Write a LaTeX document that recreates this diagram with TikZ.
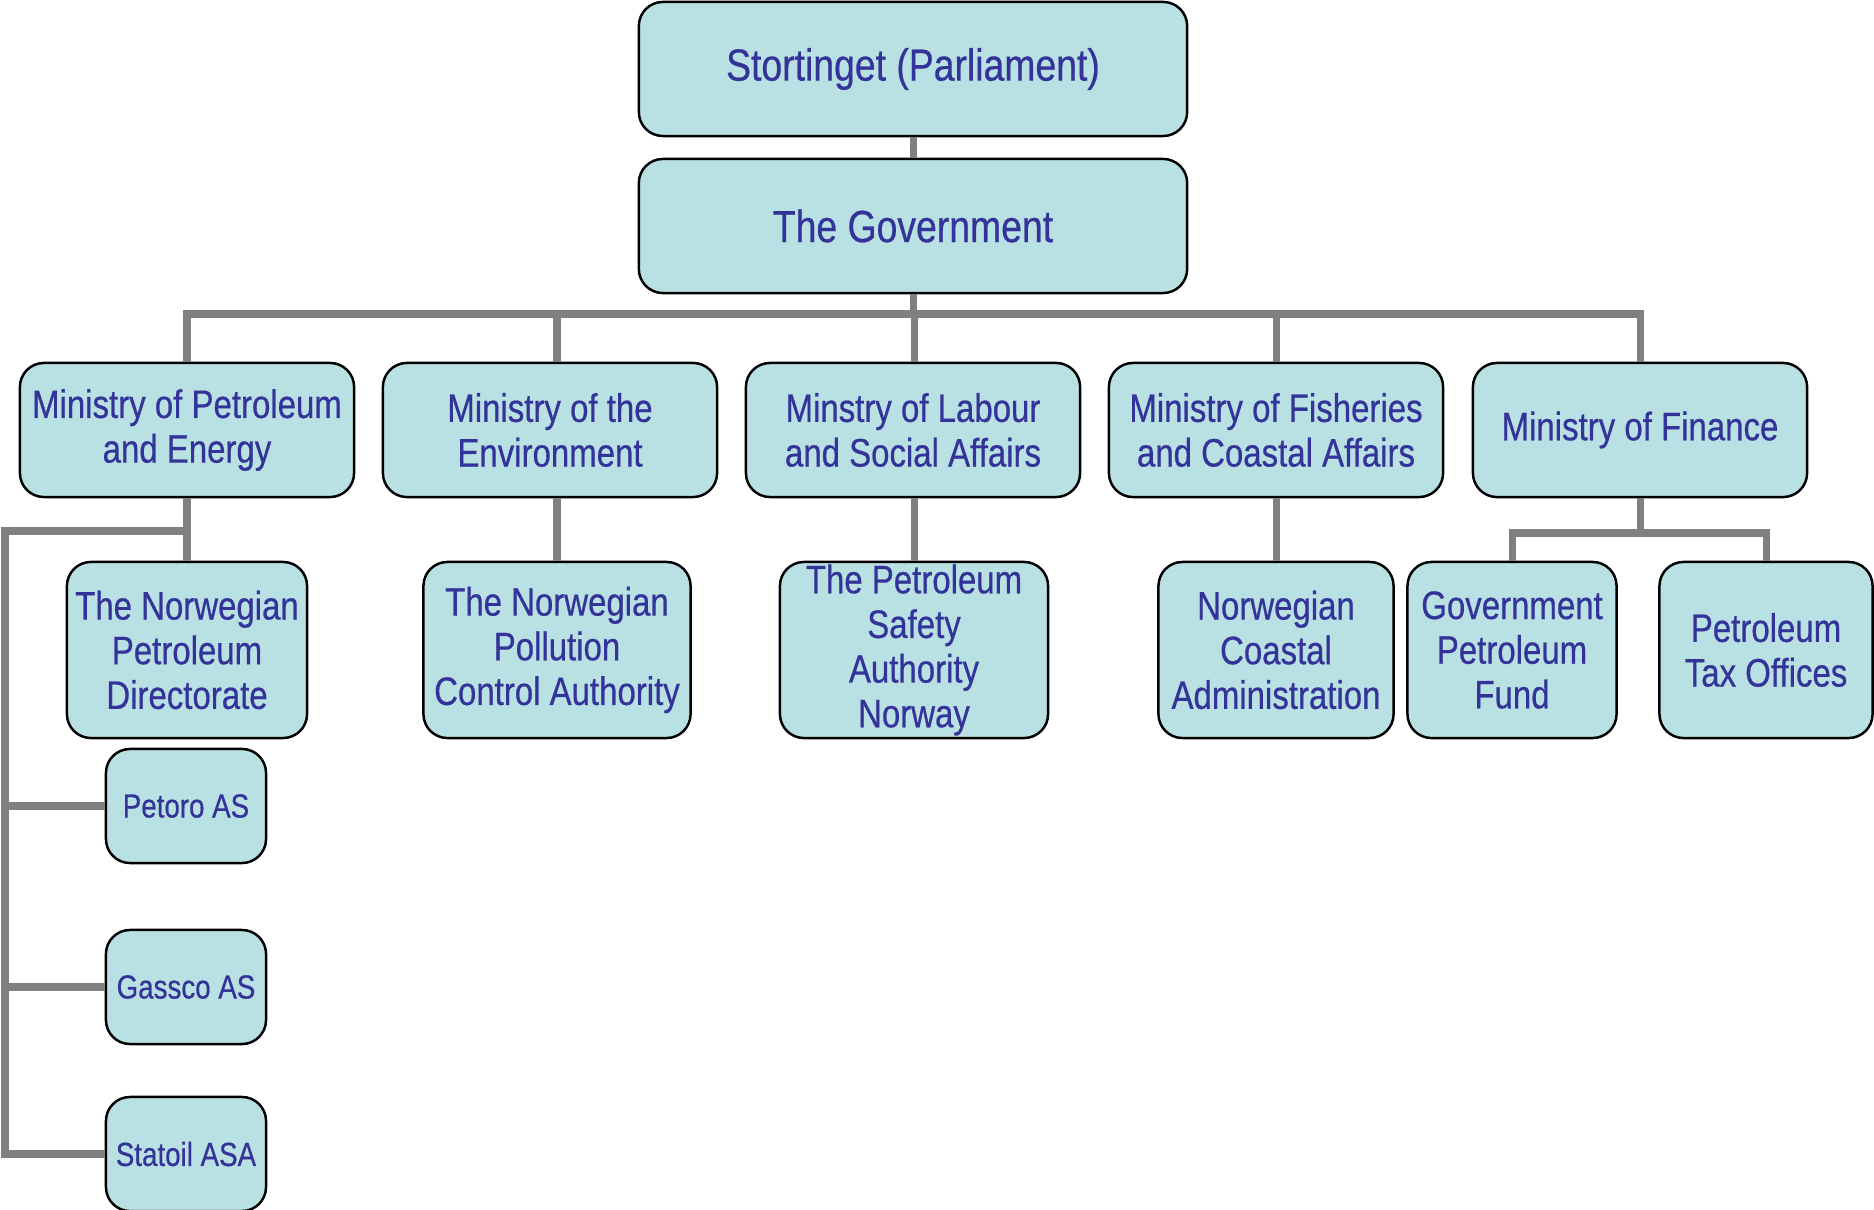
\documentclass[tikz,border=0pt]{standalone}
\usepackage{fontspec}
\setmainfont{Liberation Sans}[FakeStretch=0.83,FakeBold=0.5]
\usetikzlibrary{positioning}
\definecolor{boxfill}{RGB}{185,224,227}
\definecolor{boxtext}{RGB}{51,51,153}
\definecolor{linkgray}{RGB}{128,128,128}

\begin{document}
\begin{tikzpicture}[x=0.01cm,y=-0.01cm,
    org/.style={draw=black,line width=0.7pt,fill=boxfill,rounded corners=0.24cm,
      text=boxtext,align=center,inner sep=0pt,font=\fontsize{11.3}{12.7}\selectfont},
    top/.style={org,minimum width=5.48cm,minimum height=1.34cm,font=\fontsize{12.8}{15}\selectfont},
    ministry/.style={org,minimum width=3.34cm,minimum height=1.34cm},
    agency/.style={org,minimum height=1.76cm},
    firm/.style={org,minimum width=1.6cm,minimum height=1.14cm,font=\fontsize{9.5}{11}\selectfont},
    link/.style={draw=linkgray,line width=2pt}]
    \useasboundingbox (0,0) rectangle (1874,1210);
    % top of the chart
    \node[top] (storting) at (913,69) {Stortinget (Parliament)};
    \node[top] (gov) at (913,226) {The Government};
    % ministries
    \node[ministry] (petro) at (187,430) {Ministry of Petroleum\\and Energy};
    \node[ministry] (env) at (550,430) {Ministry of the\\Environment};
    \node[ministry] (labour) at (913,430) {Minstry of Labour\\and Social Affairs};
    \node[ministry] (fish) at (1276,430) {Ministry of Fisheries\\and Coastal Affairs};
    \node[ministry] (finance) at (1640,430) {Ministry of Finance};
    % agencies
    \node[agency,minimum width=2.40cm] (npd) at (187,650) {The Norwegian\\Petroleum\\Directorate};
    \node[agency,minimum width=2.67cm] (sft) at (557,650) {The Norwegian\\Pollution\\Control Authority};
    \node[agency,minimum width=2.68cm] (ptil) at (914,650) {The Petroleum\\Safety\\Authority\\Norway};
    \node[agency,minimum width=2.35cm] (kyst) at (1276,650) {Norwegian\\Coastal\\Administration};
    \node[agency,minimum width=2.09cm] (fund) at (1512,650) {Government\\Petroleum\\Fund};
    \node[agency,minimum width=2.13cm] (tax) at (1766,650) {Petroleum\\Tax Offices};
    % state companies
    \node[firm] (petoro) at (186,806) {Petoro AS};
    \node[firm] (gassco) at (186,987) {Gassco AS};
    \node[firm] (statoil) at (186,1154) {Statoil ASA};
    % connectors
    \coordinate (bus) at (913,314);
    \draw[link] (storting) -- (gov);
    \foreach \m/\a in {petro/npd,env/sft,labour/ptil,fish/kyst} {
      \draw[link] (gov.south) |- (bus -| \a.north) -- (\a.north |- \m.north);
      \draw[link] (\a.north |- \m.south) -- (\a.north);
    }
    \draw[link] (gov.south) |- (bus -| finance.north) -- (finance.north);
    \coordinate (finbar) at (1640,533);
    \draw[link] (fund.north) |- (finbar) -| (tax.north);
    \draw[link] (finance.south) -- (finbar);
    \coordinate (petbar) at (187,531);
    \coordinate (spine) at (5,531);
    \draw[link] (petbar) -- (spine) |- (statoil.west);
    \draw[link] (spine |- petoro.west) -- (petoro.west);
    \draw[link] (spine |- gassco.west) -- (gassco.west);
\end{tikzpicture}
\end{document}
